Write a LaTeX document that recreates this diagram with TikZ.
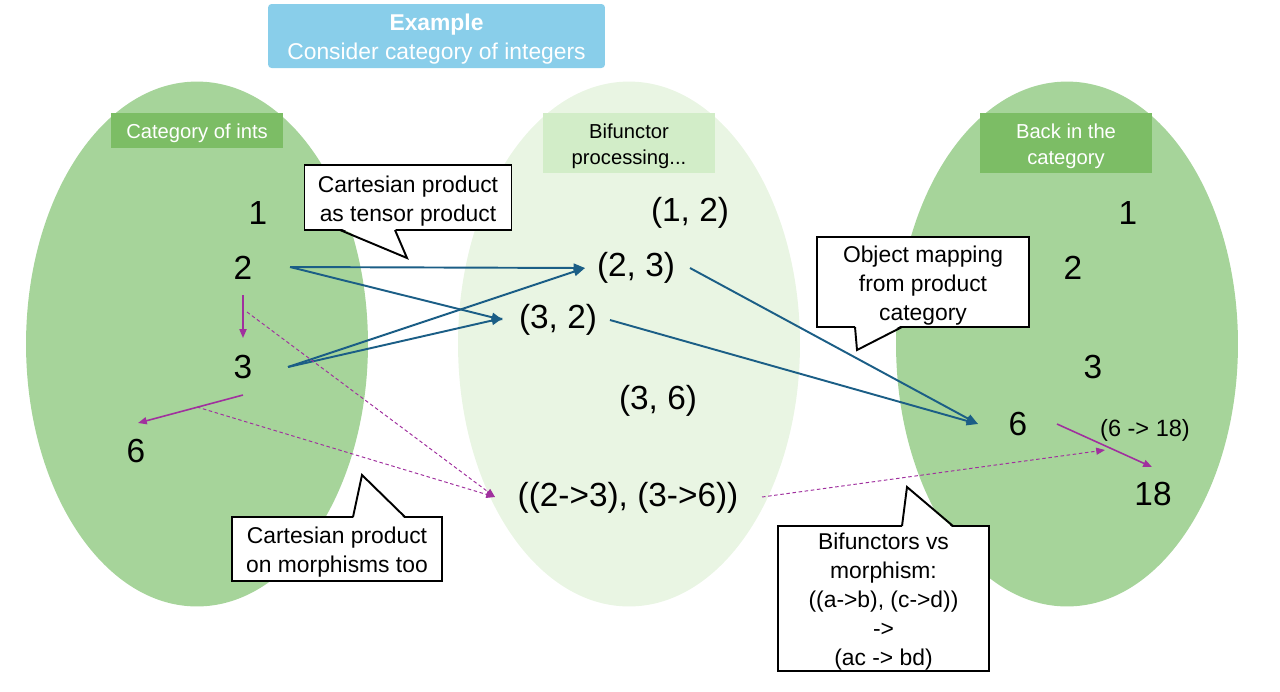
\documentclass[tikz,border=0pt]{standalone}
\usepackage{fontspec}
\setmainfont{Liberation Sans}
\usetikzlibrary{shapes.geometric,arrows.meta,calc}
\definecolor{catgreen}{HTML}{A6D49A}
\definecolor{labgreen}{HTML}{7CBD65}
\definecolor{paleback}{HTML}{E9F5E3}
\definecolor{palelab}{HTML}{D2EDC8}
\definecolor{topblue}{HTML}{89CEEA}
\definecolor{mapblue}{HTML}{1B5E86}
\definecolor{morph}{HTML}{A0309E}
\newcommand{\lift}[1]{\rule{0pt}{#1}}
\begin{document}
\begin{tikzpicture}[x=0.02cm,y=-0.02cm,
  cat/.style={shape=ellipse,inner sep=0pt,minimum width=6.84cm,minimum height=10.5cm},
  obj/.style={inner sep=0pt,font=\fontsize{19}{23}\selectfont},
  tag/.style={inner sep=0pt,minimum width=3.44cm,align=center,font=\fontsize{11.5}{14.8}\selectfont},
  say/.style={draw=black,line width=1.1pt,fill=white,inner sep=0pt,outer sep=0pt,align=center,font=\fontsize{13}{16.5}\selectfont},
  fmap/.style={draw=mapblue,line width=1.1pt,-{Triangle[length=6.5pt,width=5pt]}},
  mor/.style={draw=morph,line width=0.9pt,-{Triangle[length=5pt,width=4pt]}},
  pair/.style={draw=morph,line width=0.55pt,dash pattern=on 2pt off 1.5pt,-{Triangle[length=5pt,width=4pt]}}]
\useasboundingbox (0,0) rectangle (1280,691);
% the three categories
\node[cat,fill=catgreen] (left) at (197,344) {};
\node[cat,fill=paleback] (mid) at (629,344) {};
\node[cat,fill=catgreen] (right) at (1067,344) {};
\node[fill=topblue,rounded corners=2pt,minimum width=6.74cm,minimum height=1.28cm,inner sep=0pt,align=center,text=white,font=\fontsize{13}{16.5}\selectfont] (title) at (436.5,36) {\lift{13pt}\textbf{Example}\\Consider category of integers};
\node[tag,fill=labgreen,text=white,minimum height=0.7cm] (lefttag) at (197,130.5) {\lift{11.5pt}Category of ints};
\node[tag,fill=palelab,minimum height=1.2cm] (midtag) at (629,143) {\lift{11.5pt}Bifunctor\\processing...};
\node[tag,fill=labgreen,text=white,minimum height=1.2cm] (righttag) at (1066,143) {\lift{11.5pt}Back in the\\category};
% objects
\node[obj] (a1) at (258,213) {1};
\node[obj] (a2) at (243,268) {2};
\node[obj] (a3) at (243,367) {3};
\node[obj] (a6) at (136,451) {6};
\node[obj] (p12) at (690,213) {(1, 2)};
\node[obj] (p23) at (636,268) {(2, 3)};
\node[obj] (p32) at (558,320) {(3, 2)};
\node[obj] (p36) at (658,401) {(3, 6)};
\node[obj] (pmor) at (628,498) {((2->3), (3->6))};
\node[obj] (b1) at (1128,213) {1};
\node[obj] (b2) at (1073,268) {2};
\node[obj] (b3) at (1093,367) {3};
\node[obj] (b6) at (1018,424) {6};
\node[obj] (b18) at (1153,494) {18};
\node[inner sep=0pt,font=\fontsize{13.4}{16}\selectfont] (bmor) at (1145,430) {(6 -> 18)};
% object mapping
\draw[fmap] ($(a2)+(47,-1)$) -- ($(p23)+(-51,0)$);
\draw[fmap] ($(a2)+(47,-1)$) -- ($(p32)+(-55,0)$);
\draw[fmap] ($(a3)+(45,0)$) -- ($(p23)+(-51,0)$);
\draw[fmap] ($(a3)+(45,0)$) -- ($(p32)+(-55,-2)$);
\draw[fmap] ($(p23)+(54,0)$) -- ($(b6)+(-40,0)$);
\draw[fmap] ($(p32)+(52,0)$) -- ($(b6)+(-40,0)$);
% morphisms
\draw[mor] ($(a2)+(0,27)$) -- ($(a3)+(0,-29)$);
\draw[mor] ($(a3)+(0,28)$) -- ($(a6)+(2,-28)$);
\draw[mor] ($(b6)+(39,0)$) -- ($(b18)+(-1,-27)$);
\draw[pair] ($(a2)+(4,44)$) -- ($(pmor)+(-133,-1)$);
\draw[pair] ($(a3)+(-46,40)$) -- ($(pmor)+(-133,-1)$);
\draw[pair] ($(pmor)+(134,-1)$) -- ($(bmor)+(-40,20)$);
% callouts
\node[say,minimum width=4.14cm,minimum height=1.3cm] (c1) at (408,197.5) {\lift{13pt}Cartesian product\\as tensor product};
\coordinate (t1) at (407,258);
\fill[white] ($(c1.south)+(-68,-2)$) -- (t1) -- ($(c1.south)+(-13,-2)$) -- cycle;
\draw[line width=1.1pt] ($(c1.south)+(-68,0)$) -- (t1) -- ($(c1.south)+(-13,0)$);
\node[say,minimum width=4.24cm,minimum height=1.8cm] (c2) at (923,282) {\lift{13pt}Object mapping\\from product\\category};
\coordinate (t2) at (857,350);
\fill[white] ($(c2.south)+(-68,-2)$) -- (t2) -- ($(c2.south)+(-21,-2)$) -- cycle;
\draw[line width=1.1pt] ($(c2.south)+(-68,0)$) -- (t2) -- ($(c2.south)+(-21,0)$);
\node[say,minimum width=4.2cm,minimum height=1.28cm] (c3) at (337,549) {\lift{13pt}Cartesian product\\on morphisms too};
\coordinate (t3) at (362,475);
\fill[white] ($(c3.north)+(16,2)$) -- (t3) -- ($(c3.north)+(68,2)$) -- cycle;
\draw[line width=1.1pt] ($(c3.north)+(16,0)$) -- (t3) -- ($(c3.north)+(68,0)$);
\node[say,minimum width=4.22cm,minimum height=2.9cm] (c4) at (883.5,598.5) {\lift{13pt}Bifunctors vs\\morphism:\\((a->b), (c->d))\\->\\(ac -> bd)};
\coordinate (t4) at (907,487);
\fill[white] ($(c4.north)+(18.5,2)$) -- (t4) -- ($(c4.north)+(69.5,2)$) -- cycle;
\draw[line width=1.1pt] ($(c4.north)+(18.5,0)$) -- (t4) -- ($(c4.north)+(69.5,0)$);
\end{tikzpicture}
\end{document}
